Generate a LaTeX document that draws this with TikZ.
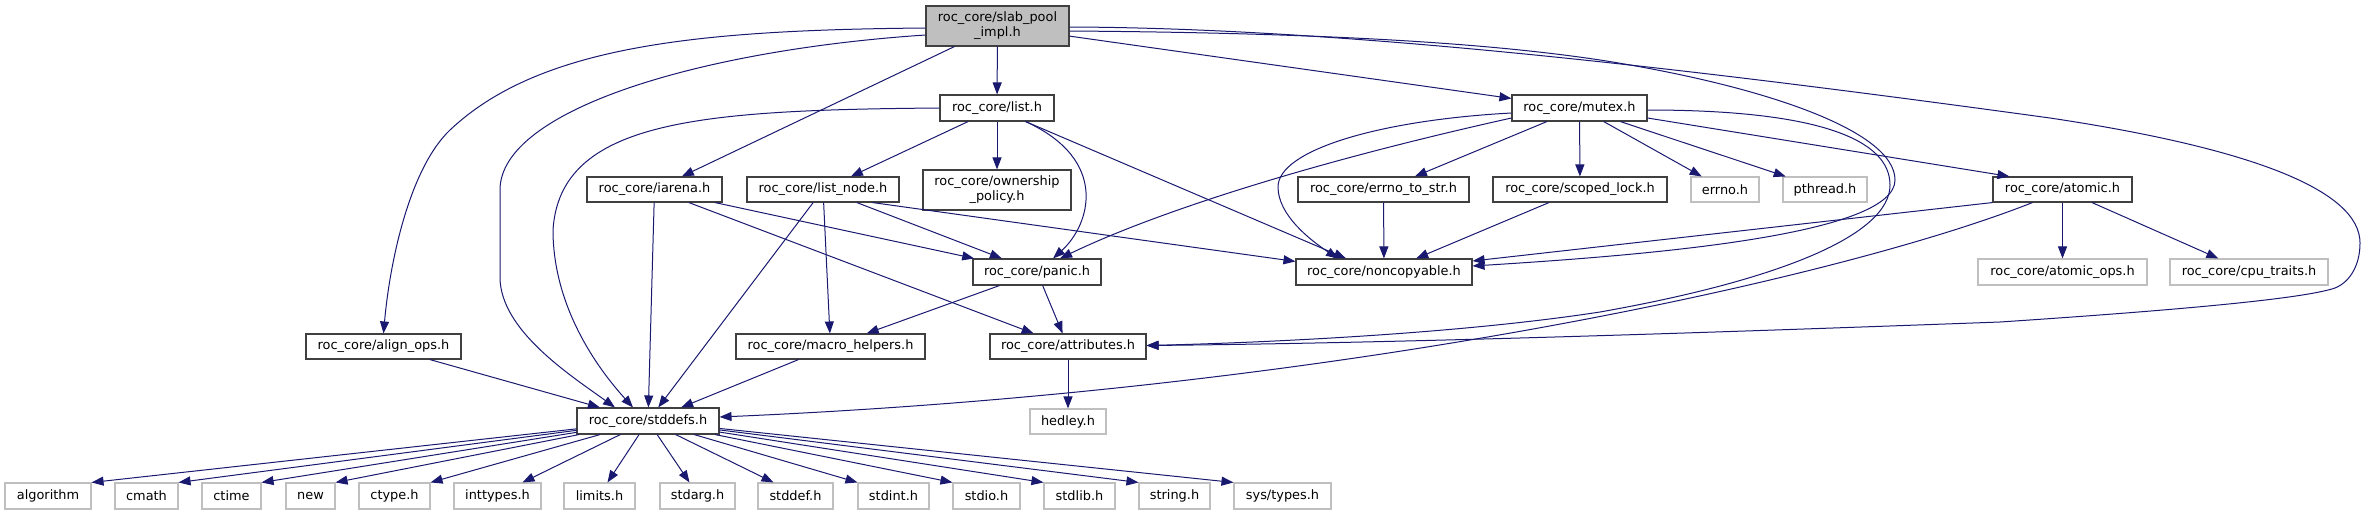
\documentclass[tikz,border=0pt]{standalone}
\usepackage{fontspec}
\setmainfont{DejaVu Sans}
\usetikzlibrary{arrows.meta,calc}
\definecolor{edgeblue}{RGB}{25,25,112}
\definecolor{boxline}{RGB}{64,64,64}
\definecolor{sysline}{RGB}{191,191,191}
\definecolor{rootfill}{RGB}{191,191,191}
\begin{document}
\begin{tikzpicture}[x=1pt,y=-1pt,
 hdr/.style={draw=boxline, line width=1.1pt, fill=white, inner sep=0pt, minimum height=26pt, font=\fontsize{12.9}{15}\selectfont, align=center},
 sys/.style={hdr, draw=sysline},
 root/.style={hdr, fill=rootfill, minimum height=40pt},
 conn/.style={draw=edgeblue, line width=1pt, -{Triangle[length=12pt,width=9pt]}},
]
\useasboundingbox (0,0) rectangle (2365,515);

% nodes
\node[root, minimum width=143pt] (slab) at (997.5,26) {roc\_core/slab\_pool\\\_impl.h};
\node[hdr, minimum width=114pt] (list) at (997,108) {roc\_core/list.h};
\node[hdr, minimum width=135pt] (mutex) at (1579.5,108) {roc\_core/mutex.h};
\node[hdr, minimum width=135pt, minimum height=25pt] (iarena) at (654.5,189.5) {roc\_core/iarena.h};
\node[hdr, minimum width=152pt, minimum height=25pt] (listnode) at (823,189.5) {roc\_core/list\_node.h};
\node[hdr, minimum width=148pt, minimum height=40pt] (owner) at (997,190) {roc\_core/ownership\\\_policy.h};
\node[hdr, minimum width=171pt, minimum height=25pt] (errstr) at (1383.5,189.5) {roc\_core/errno\_to\_str.h};
\node[hdr, minimum width=174pt, minimum height=25pt] (scoped) at (1580,189.5) {roc\_core/scoped\_lock.h};
\node[sys, minimum width=68pt, minimum height=25pt] (errnoh) at (1725,189.5) {errno.h};
\node[sys, minimum width=84pt, minimum height=25pt] (pthread) at (1825,189.5) {pthread.h};
\node[hdr, minimum width=139pt, minimum height=25pt] (atomic) at (2062.5,189.5) {roc\_core/atomic.h};
\node[hdr, minimum width=128pt] (panic) at (1037,272) {roc\_core/panic.h};
\node[hdr, minimum width=176pt] (noncopy) at (1384,272) {roc\_core/noncopyable.h};
\node[sys, minimum width=169pt] (atomicops) at (2062.5,272) {roc\_core/atomic\_ops.h};
\node[sys, minimum width=158pt] (cputraits) at (2249,272) {roc\_core/cpu\_traits.h};
\node[hdr, minimum width=155pt, minimum height=25pt] (align) at (383.5,346.5) {roc\_core/align\_ops.h};
\node[hdr, minimum width=189pt, minimum height=25pt] (macro) at (830.5,346.5) {roc\_core/macro\_helpers.h};
\node[hdr, minimum width=156pt, minimum height=25pt] (attrs) at (1068,346.5) {roc\_core/attributes.h};
\node[hdr, minimum width=142pt] (stddefs) at (648,421) {roc\_core/stddefs.h};
\node[sys, minimum width=76pt, minimum height=25pt] (hedley) at (1068,421.5) {hedley.h};

\node[sys, minimum width=86pt] (salg) at (48,496) {algorithm};
\node[sys, minimum width=63pt] (scmath) at (146.5,496) {cmath};
\node[sys, minimum width=59pt] (sctime) at (231.5,496) {ctime};
\node[sys, minimum width=49pt] (snew) at (310.5,496) {new};
\node[sys, minimum width=71pt] (sctype) at (394.5,496) {ctype.h};
\node[sys, minimum width=87pt] (sinttypes) at (497.5,496) {inttypes.h};
\node[sys, minimum width=71pt] (slimits) at (599.5,496) {limits.h};
\node[sys, minimum width=75pt] (sstdarg) at (697.5,496) {stdarg.h};
\node[sys, minimum width=75pt] (sstddef) at (795.5,496) {stddef.h};
\node[sys, minimum width=71pt] (sstdint) at (893.5,496) {stdint.h};
\node[sys, minimum width=67pt] (sstdio) at (986.5,496) {stdio.h};
\node[sys, minimum width=71pt] (sstdlib) at (1079.5,496) {stdlib.h};
\node[sys, minimum width=71pt] (sstring) at (1174.5,496) {string.h};
\node[sys, minimum width=97pt] (ssystypes) at (1282.5,496) {sys/types.h};

% edges from slab_pool_impl.h
\draw[conn] ($(slab.west)+(0,2)$) .. controls (700,30) and (540,45) .. (450,130)
  .. controls (410,168) and (390,260) .. (align.north);
\draw[conn] ($(slab.west)+(0,9)$) .. controls (700,50) and (500,110) .. (500,190)
  -- (500,277) .. controls (500,330) and (570,375) .. ($(stddefs.north)+(-33,0)$);
\draw[conn] (slab) -- (iarena);
\draw[conn] (slab) -- (list);
\draw[conn] (slab) -- (mutex);
\draw[conn] ($(slab.east)+(0,5)$) .. controls (1350,33) and (1500,45) .. (1600,60)
  .. controls (1760,85) and (1895,130) .. (1895,180)
  .. controls (1895,235) and (1650,255) .. ($(noncopy.east)+(0,-6)$);
\draw[conn] ($(slab.east)+(0,1)$) .. controls (1350,28) and (1700,70) .. (2050,118)
  .. controls (2250,148) and (2360,190) .. (2360,243)
  .. controls (2360,265) and (2350,282) .. (2335,288)
  .. controls (2300,300) and (2150,312) .. (2000,322)
  .. controls (1700,333) and (1400,343) .. ($(attrs.east)+(0,-1)$);

% edges from list.h
\draw[conn] (list) -- (listnode);
\draw[conn] (list) -- (owner);
\draw[conn] ($(list.south east)+(-29,0)$) .. controls (1110,160) and (1090,225) .. ($(panic.north)+(16,0)$);
\draw[conn] ($(list.south east)+(-29,0)$) -- ($(noncopy.north)+(-38,0)$);
\draw[conn] (list.west) .. controls (700,110) and (560,120) .. (553,230)
  .. controls (553,300) and (590,360) .. ($(stddefs.north)+(-15,0)$);

% edges from mutex.h
\draw[conn] ($(mutex.west)+(0,5)$) .. controls (1380,120) and (1278,150) .. (1278,187)
  .. controls (1278,215) and (1310,240) .. ($(noncopy.north)+(-46,0)$);
\draw[conn] ($(mutex.west)+(0,10)$) .. controls (1300,165) and (1150,215) .. ($(panic.north)+(23,0)$);
\draw[conn] (mutex) -- (errstr);
\draw[conn] (mutex) -- (scoped);
\draw[conn] (mutex) -- (errnoh);
\draw[conn] (mutex) -- (pthread);
\draw[conn] ($(mutex.east)+(0,10)$) -- ($(atomic.north west)+(17,0)$);
\draw[conn] ($(mutex.east)+(0,2)$) .. controls (1820,110) and (1890,140) .. (1890,185)
  .. controls (1890,235) and (1780,280) .. (1600,312)
  .. controls (1450,335) and (1250,343) .. ($(attrs.east)+(0,-1)$);

% edges from atomic.h
\draw[conn] (atomic.south west) -- ($(noncopy.east)+(0,-11)$);
\draw[conn] ($(atomic.south west)+(40,0)$) .. controls (1850,275) and (1350,390) .. ($(stddefs.east)+(0,-4)$);
\draw[conn] (atomic) -- (atomicops);
\draw[conn] (atomic) -- (cputraits);

% other edges
\draw[conn] (errstr) -- (noncopy);
\draw[conn] (scoped) -- (noncopy);
\draw[conn] (iarena) -- (stddefs);
\draw[conn] (iarena) -- (panic);
\draw[conn] (iarena) -- (attrs);
\draw[conn] (listnode) -- (stddefs);
\draw[conn] (listnode) -- (macro);
\draw[conn] (listnode) -- (panic);
\draw[conn] ($(listnode.south east)+(-27,0)$) -- ($(noncopy.north west)+(0,3)$);
\draw[conn] (panic) -- (macro);
\draw[conn] (panic) -- (attrs);
\draw[conn] (macro) -- (stddefs);
\draw[conn] (align) -- (stddefs);
\draw[conn] (attrs) -- (hedley);

% stddefs.h to system headers
\draw[conn] (stddefs) -- (salg.north east);
\draw[conn] (stddefs) -- (scmath.north east);
\draw[conn] (stddefs) -- (sctime.north east);
\draw[conn] (stddefs) -- (snew.north east);
\draw[conn] (stddefs) -- (sctype.north east);
\draw[conn] (stddefs) -- ($(sinttypes.north)+(25,0)$);
\draw[conn] (stddefs) -- ($(slimits.north)+(8,0)$);
\draw[conn] (stddefs) -- ($(sstdarg.north)+(-8,0)$);
\draw[conn] (stddefs) -- ($(sstddef.north)+(-22,0)$);
\draw[conn] (stddefs) -- (sstdint.north west);
\draw[conn] (stddefs) -- (sstdio.north west);
\draw[conn] (stddefs) -- (sstdlib.north west);
\draw[conn] (stddefs) -- (sstring.north west);
\draw[conn] (stddefs) -- (ssystypes.north west);
\end{tikzpicture}
\end{document}
